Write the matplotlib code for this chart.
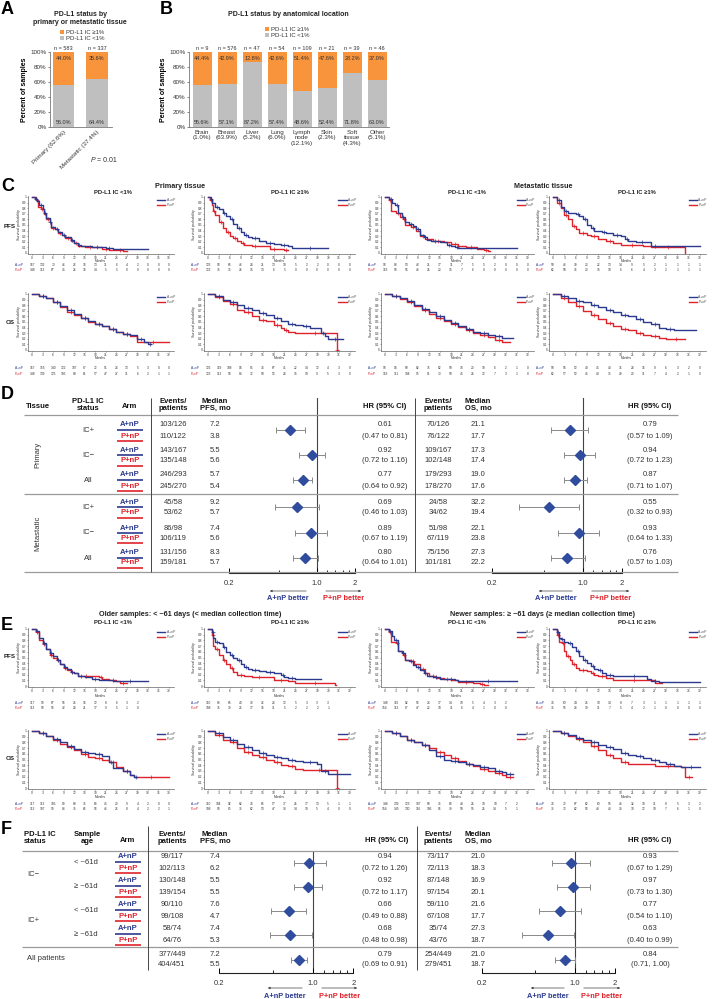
import matplotlib
matplotlib.use('Agg')
import matplotlib.pyplot as plt
import numpy as np
from matplotlib import transforms

plt.rcParams['font.family'] = ['Liberation Sans', 'DejaVu Sans']

BLUE = '#2B3A8F'
RED = '#E0232B'
ORANGE = '#F7943C'
GRAY = '#BFBFBF'
TXT = '#333333'
DIAM = '#2F4C9E'
LINE = '#9A9A9A'

# ---------------- Panel A data ----------------
a_cats = ['Primary (62.6%)', 'Metastatic (37.4%)']
a_pos = [44.0, 35.6]
a_neg = [56.0, 64.4]
a_n = [583, 337]

# ---------------- Panel B data ----------------
b_cats = ['Brain\n(1.0%)', 'Breast\n(63.9%)', 'Liver\n(5.2%)', 'Lung\n(6.0%)',
          'Lymph\nnode\n(12.1%)', 'Skin\n(2.3%)', 'Soft\ntissue\n(4.3%)', 'Other\n(5.1%)']
b_pos = [44.4, 42.9, 12.8, 42.6, 51.4, 47.6, 28.2, 37.0]
b_neg = [55.6, 57.1, 87.2, 57.4, 48.6, 52.4, 71.8, 63.0]
b_n = [9, 576, 47, 54, 109, 21, 39, 46]

# ---------------- KM curves (month, survival) ----------------
c_pfs_pri_lo_a = [(0,1),(0.8,0.97),(1.5,0.92),(2,0.85),(3,0.78),(3.5,0.72),(4,0.62),(5,0.55),(5.5,0.47),(6.5,0.43),(7.5,0.37),(8.5,0.33),(9.5,0.28),(11,0.24),(12,0.18),(13,0.14),(14,0.12),(17,0.11),(20,0.1),(21,0.09),(23,0.08),(33,0.08)]
c_pfs_pri_lo_p = [(0,1),(1,0.95),(1.7,0.82),(2.5,0.78),(3.3,0.7),(4,0.6),(5,0.55),(5.5,0.45),(6.5,0.42),(7.5,0.36),(8.5,0.32),(9.5,0.27),(11,0.22),(12,0.18),(13,0.13),(15,0.11),(18,0.1),(20,0.08),(22,0.06),(24,0.05),(26,0.03),(27,0.03)]
c_pfs_pri_hi_a = [(0,1),(0.7,0.97),(1.2,0.9),(2,0.83),(3,0.78),(4,0.72),(5,0.66),(6,0.6),(7,0.52),(8,0.45),(9,0.38),(10,0.32),(11,0.28),(12,0.26),(14,0.22),(16,0.18),(18,0.16),(20,0.15),(22,0.13),(23,0.09),(33,0.09)]
c_pfs_pri_hi_p = [(0,1),(0.5,0.95),(1,0.85),(1.5,0.75),(2,0.67),(3,0.56),(4,0.45),(5,0.38),(6,0.3),(7,0.26),(8,0.21),(9,0.18),(10,0.15),(12,0.13),(14,0.12),(17,0.08),(19,0.07),(21,0.05),(22,0.05)]
c_pfs_met_lo_a = [(0,1),(1,0.97),(2,0.9),(2.8,0.85),(3.5,0.72),(4.5,0.65),(5.5,0.55),(6.5,0.52),(7.5,0.48),(8.5,0.42),(9.5,0.33),(10.5,0.28),(11.5,0.24),(12.5,0.21),(15,0.2),(17,0.15),(18,0.12),(19,0.1),(20,0.09),(36,0.09)]
c_pfs_met_lo_p = [(0,1),(1,0.95),(1.7,0.75),(3,0.72),(4,0.65),(5,0.6),(5.5,0.5),(7,0.47),(8.5,0.4),(9.5,0.3),(11,0.25),(13,0.21),(16,0.2),(18,0.16),(20,0.12),(22,0.1),(25,0.08),(27,0.05),(28,0.03),(28.5,0.03)]
c_pfs_met_hi_a = [(0,1),(1,0.95),(2,0.82),(3,0.75),(4,0.72),(6,0.7),(7,0.66),(8,0.6),(9,0.5),(10,0.45),(11,0.4),(13,0.38),(14,0.35),(16,0.33),(18,0.3),(19,0.25),(20,0.22),(22,0.2),(25,0.2),(26,0.13),(28,0.12),(39,0.12)]
c_pfs_met_hi_p = [(0,1),(1,0.9),(2,0.8),(3,0.68),(4,0.6),(5,0.48),(6,0.42),(7,0.35),(9,0.32),(10,0.3),(12,0.25),(14,0.22),(16,0.17),(18,0.15),(24,0.13),(26,0.1),(35,0.0),(35.1,0.0)]
c_os_pri_lo_a = [(0,1),(2,0.97),(4,0.92),(6,0.86),(8,0.78),(10,0.72),(12,0.65),(14,0.58),(16,0.52),(18,0.47),(20,0.42),(22,0.37),(24,0.32),(26,0.29),(28,0.26),(30,0.2),(32,0.15),(33,0.11),(34,0.11)]
c_os_pri_lo_p = [(0,1),(2,0.97),(4,0.93),(6,0.85),(8,0.76),(10,0.68),(12,0.63),(14,0.57),(16,0.5),(18,0.46),(20,0.42),(22,0.37),(24,0.32),(26,0.28),(28,0.25),(30,0.15),(39,0.15)]
c_os_pri_hi_a = [(0,1),(2,0.97),(4,0.9),(6,0.85),(8,0.8),(10,0.75),(12,0.72),(14,0.66),(16,0.62),(18,0.57),(20,0.52),(22,0.47),(24,0.44),(26,0.42),(28,0.4),(31,0.3),(32,0.25),(33,0.2),(37,0.2)]
c_os_pri_hi_p = [(0,1),(2,0.95),(4,0.87),(6,0.82),(8,0.72),(10,0.67),(12,0.6),(14,0.54),(16,0.52),(18,0.45),(20,0.4),(21,0.36),(22,0.33),(24,0.3),(35,0.3),(35.5,0.0),(35.6,0.0)]
c_os_met_lo_a = [(0,1),(2,0.97),(4,0.92),(6,0.87),(8,0.8),(10,0.73),(12,0.67),(14,0.6),(16,0.53),(18,0.48),(20,0.43),(22,0.38),(24,0.33),(26,0.3),(28,0.27),(30,0.25),(32,0.22),(35,0.22)]
c_os_met_lo_p = [(0,1),(2,0.96),(4,0.91),(6,0.85),(8,0.78),(10,0.72),(12,0.65),(14,0.58),(16,0.52),(18,0.46),(20,0.41),(22,0.36),(24,0.31),(26,0.27),(28,0.23),(30,0.18),(32,0.15),(34,0.15)]
c_os_met_hi_a = [(0,1),(2,0.96),(4,0.92),(6,0.88),(8,0.85),(10,0.8),(12,0.76),(14,0.72),(16,0.68),(18,0.63),(20,0.6),(22,0.56),(24,0.5),(26,0.46),(28,0.4),(30,0.37),(32,0.35),(38,0.35)]
c_os_met_hi_p = [(0,1),(2,0.93),(4,0.85),(6,0.78),(8,0.7),(10,0.62),(12,0.55),(14,0.48),(16,0.42),(18,0.37),(20,0.35),(22,0.3),(24,0.27),(26,0.25),(28,0.22),(30,0.2),(35,0.2)]

e_pfs_old_lo_a = [(0,1),(1,0.97),(2,0.85),(3,0.75),(4,0.65),(5,0.58),(6,0.53),(7,0.45),(8,0.38),(9,0.33),(10,0.3),(11,0.25),(12,0.22),(13,0.17),(15,0.15),(17,0.12),(19,0.1),(23,0.09),(33,0.09)]
e_pfs_old_lo_p = [(0,1),(1,0.95),(2,0.8),(3,0.73),(4,0.65),(5,0.55),(6,0.5),(7,0.45),(8,0.38),(9,0.32),(10,0.28),(11,0.25),(12,0.22),(13,0.18),(18,0.18),(19,0.15),(20,0.12),(22,0.1),(24,0.08),(25,0.06),(27,0.06)]
e_pfs_old_hi_a = [(0,1),(1,0.95),(1.5,0.85),(2,0.78),(3,0.75),(4,0.68),(5,0.6),(6,0.55),(7,0.5),(8,0.45),(9,0.38),(10,0.33),(11,0.3),(12,0.28),(14,0.26),(16,0.25),(18,0.23),(20,0.2),(21,0.16),(22,0.14),(24,0.12),(31,0.12)]
e_pfs_old_hi_p = [(0,1),(1,0.9),(1.5,0.7),(2,0.65),(3,0.55),(4,0.45),(5,0.38),(6,0.32),(7,0.25),(8,0.2),(10,0.18),(12,0.16),(16,0.15),(18,0.1),(22,0.08),(24,0.06),(35,0.02),(35.1,0.02)]
e_os_old_lo_a = [(0,1),(2,0.97),(4,0.92),(6,0.86),(8,0.8),(10,0.74),(12,0.68),(14,0.64),(16,0.62),(18,0.6),(20,0.56),(22,0.45),(23,0.35),(26,0.3),(28,0.22),(29,0.2),(30,0.2)]
e_os_old_lo_p = [(0,1),(2,0.96),(4,0.92),(6,0.85),(8,0.78),(10,0.72),(12,0.66),(14,0.6),(16,0.55),(18,0.52),(20,0.5),(22,0.45),(24,0.36),(26,0.3),(28,0.22),(29,0.2),(39,0.2)]
e_os_old_hi_a = [(0,1),(2,0.96),(4,0.9),(6,0.85),(8,0.78),(10,0.72),(12,0.67),(14,0.62),(16,0.58),(18,0.55),(20,0.52),(22,0.5),(24,0.47),(26,0.45),(30,0.42),(31,0.3),(33,0.25),(39,0.25)]
e_os_old_hi_p = [(0,1),(2,0.93),(4,0.85),(6,0.8),(8,0.7),(10,0.64),(12,0.58),(14,0.55),(16,0.5),(18,0.45),(20,0.4),(22,0.38),(24,0.33),(26,0.32),(35,0.32),(35.5,0.0),(35.6,0.0)]
e_pfs_new_lo_a = [(0,1),(1,0.97),(1.8,0.88),(2.5,0.8),(3.5,0.62),(4.5,0.58),(5.5,0.45),(6.5,0.44),(7.5,0.37),(8.5,0.33),(9.5,0.28),(10.5,0.22),(11.5,0.17),(13,0.15),(15,0.13),(17,0.12),(19,0.1),(20,0.08),(36,0.08)]
e_pfs_new_lo_p = [(0,1),(1,0.95),(1.7,0.78),(3,0.75),(3.5,0.62),(5,0.55),(5.5,0.46),(7,0.44),(8,0.38),(9.5,0.3),(11,0.22),(12,0.17),(14,0.14),(16,0.13),(18,0.11),(20,0.07),(24,0.06),(26,0.04),(27,0.02),(28,0.02)]
e_pfs_new_hi_a = [(0,1),(1,0.95),(1.5,0.85),(2,0.82),(3,0.77),(4,0.75),(5,0.68),(6,0.62),(7,0.52),(8,0.45),(9,0.4),(10,0.35),(11,0.3),(12,0.28),(13,0.23),(14,0.2),(16,0.18),(18,0.17),(25,0.12),(26,0.08),(28,0.07),(39,0.07)]
e_pfs_new_hi_p = [(0,1),(1,0.9),(1.5,0.78),(2.5,0.75),(3,0.62),(3.5,0.52),(4.5,0.45),(5,0.38),(6,0.32),(7,0.28),(9,0.27),(10,0.23),(11,0.2),(12,0.18),(14,0.14),(16,0.1),(27,0.05),(29,0.05)]
e_os_new_lo_a = [(0,1),(2,0.97),(4,0.92),(6,0.85),(8,0.8),(10,0.75),(12,0.67),(14,0.57),(16,0.5),(18,0.47),(20,0.45),(22,0.42),(24,0.4),(26,0.37),(28,0.35),(30,0.3),(32,0.28),(33,0.24),(35,0.24)]
e_os_new_lo_p = [(0,1),(2,0.96),(4,0.91),(6,0.85),(8,0.8),(10,0.75),(12,0.7),(14,0.64),(16,0.58),(18,0.53),(20,0.47),(22,0.42),(24,0.38),(26,0.33),(28,0.3),(30,0.27),(32,0.22),(33,0.2),(35,0.2)]
e_os_new_hi_a = [(0,1),(2,0.97),(4,0.93),(6,0.88),(8,0.85),(10,0.8),(12,0.76),(14,0.72),(16,0.68),(18,0.62),(20,0.58),(22,0.56),(24,0.52),(26,0.5),(28,0.46),(30,0.42),(32,0.38),(34,0.36),(39,0.36)]
e_os_new_hi_p = [(0,1),(2,0.96),(4,0.92),(6,0.86),(8,0.8),(10,0.74),(12,0.66),(14,0.58),(16,0.52),(18,0.46),(20,0.42),(27,0.38),(34,0.36),(35,0.2),(37,0.2)]

# ---------------- Numbers at risk (months 0, 3, 6, ...) ----------------
r_c_pfs_pri_lo_a = [167,132,70,46,26,16,13,11,6,4,2,0,0,0]
r_c_pfs_pri_lo_p = [148,113,67,45,25,16,14,5,5,0,0,0,0,0]
r_c_pfs_pri_hi_a = [126,98,65,46,28,21,13,10,5,2,2,0,0,0]
r_c_pfs_pri_hi_p = [122,75,35,25,15,13,6,5,0,0,0,0,0,0]
r_c_pfs_met_lo_a = [98,83,53,42,21,17,11,7,5,5,2,0,0,0]
r_c_pfs_met_lo_p = [119,98,56,46,25,23,15,7,6,0,0,0,0,0]
r_c_pfs_met_hi_a = [58,46,30,23,22,13,14,9,5,2,1,1,1,1]
r_c_pfs_met_hi_p = [62,50,36,20,15,10,6,6,4,3,2,1,1,1]
r_c_os_pri_lo_a = [167,155,140,122,107,87,72,51,24,13,5,3,0,0]
r_c_os_pri_lo_p = [148,139,125,105,80,61,57,47,27,11,6,2,1,1]
r_c_os_pri_hi_a = [126,119,108,94,85,74,67,41,22,14,12,4,3,0]
r_c_os_pri_hi_p = [122,112,98,84,72,58,52,28,15,10,9,5,3,0]
r_c_os_met_lo_a = [98,94,90,82,75,62,50,38,20,10,6,2,1,0]
r_c_os_met_lo_p = [119,111,104,95,81,70,58,45,25,12,7,3,1,0]
r_c_os_met_hi_a = [58,56,52,49,45,40,36,28,16,9,6,3,2,0]
r_c_os_met_hi_p = [62,57,52,45,40,35,29,20,11,7,4,2,1,0]
r_e_pfs_old_lo_a = [117,99,67,56,26,16,12,8,6,3,2]
r_e_pfs_old_lo_p = [113,93,56,42,28,21,17,9,5,1,0]
r_e_pfs_old_hi_a = [110,83,65,49,33,26,24,12,5,3,3,3]
r_e_pfs_old_hi_p = [108,75,39,26,17,16,11,5,2,2,2,1]
r_e_os_old_lo_a = [117,112,105,89,80,76,64,45,20,9,4,2,0,0]
r_e_os_old_lo_p = [113,107,99,84,75,66,56,46,26,8,4,2,2,1]
r_e_os_old_hi_a = [110,104,92,82,74,65,57,37,25,17,13,5,1,1]
r_e_os_old_hi_p = [108,98,85,76,62,53,47,33,14,10,5,4,0,0]
r_e_pfs_new_lo_a = [148,116,82,56,24,17,14,10,5,4,3,2]
r_e_pfs_new_lo_p = [154,113,87,47,22,18,11,6,4,1,0,0]
r_e_pfs_new_hi_a = [74,60,44,26,18,14,8,7,3,1,1,1,1,1]
r_e_pfs_new_hi_p = [76,55,24,19,11,7,5,4,2,1,0,0,0,0]
r_e_os_new_lo_a = [148,139,123,107,90,76,64,48,25,18,10,7,2]
r_e_os_new_lo_p = [154,145,130,116,106,96,79,58,55,25,14,5,1]
r_e_os_new_hi_a = [74,72,67,62,60,55,46,32,18,11,8,5,3,2]
r_e_os_new_hi_p = [76,73,62,56,48,40,34,18,12,10,7,6,1,0]

# ---------------- Panel D data ----------------
d_tissue = ['Primary', 'Metastatic']
d_status = ['IC+', 'IC\u2212', 'All', 'IC+', 'IC\u2212', 'All']
d_pfs_ev_a = ['103/126', '143/167', '246/293', '45/58', '86/98', '131/156']
d_pfs_ev_p = ['110/122', '135/148', '245/270', '53/62', '106/119', '159/181']
d_pfs_med_a = [7.2, 5.5, 5.7, 9.2, 7.4, 8.3]
d_pfs_med_p = [3.8, 5.6, 5.4, 5.7, 5.6, 5.7]
d_pfs_hr = [0.61, 0.92, 0.77, 0.69, 0.89, 0.80]
d_pfs_lo = [0.47, 0.72, 0.64, 0.46, 0.67, 0.64]
d_pfs_hi = [0.81, 1.16, 0.92, 1.03, 1.19, 1.01]
d_os_ev_a = ['70/126', '109/167', '179/293', '24/58', '51/98', '75/156']
d_os_ev_p = ['76/122', '102/148', '178/270', '34/62', '67/119', '101/181']
d_os_med_a = [21.1, 17.3, 19.0, 32.2, 22.1, 27.3]
d_os_med_p = [17.7, 17.4, 17.6, 19.4, 23.8, 22.2]
d_os_hr = [0.79, 0.94, 0.87, 0.55, 0.93, 0.76]
d_os_lo = [0.57, 0.72, 0.71, 0.32, 0.64, 0.57]
d_os_hi = [1.09, 1.23, 1.07, 0.93, 1.33, 1.03]

# ---------------- Panel F data ----------------
f_status = ['IC\u2212', 'IC+']
f_age = ['< ~61d', '\u2265 ~61d', '< ~61d', '\u2265 ~61d']
f_pfs_ev_a = ['99/117', '130/148', '90/110', '58/74', '377/449']
f_pfs_ev_p = ['102/113', '139/154', '99/108', '64/76', '404/451']
f_pfs_med_a = [7.4, 5.5, 7.6, 7.4, 7.2]
f_pfs_med_p = [6.2, 5.5, 4.7, 5.3, 5.5]
f_pfs_hr = [0.94, 0.92, 0.66, 0.68, 0.79]
f_pfs_lo = [0.72, 0.72, 0.49, 0.48, 0.69]
f_pfs_hi = [1.26, 1.17, 0.88, 0.98, 0.91]
f_os_ev_a = ['73/117', '87/148', '59/110', '35/74', '254/449']
f_os_ev_p = ['72/113', '97/154', '67/108', '43/76', '279/451']
f_os_med_a = [21.0, 16.9, 21.6, 27.3, 21.0]
f_os_med_p = [18.3, 20.1, 17.7, 18.7, 18.7]
f_os_hr = [0.93, 0.97, 0.77, 0.63, 0.84]
f_os_lo = [0.67, 0.73, 0.54, 0.40, 0.71]
f_os_hi = [1.29, 1.30, 1.10, 0.99, 1.00]

# =====================================================================
W, H = 714, 999
fig = plt.figure(figsize=(W / 100, H / 100), dpi=100)
ov = fig.add_axes([0, 0, 1, 1], zorder=10)
ov.set_xlim(0, W)
ov.set_ylim(H, 0)
ov.axis('off')
ov.patch.set_visible(False)


def px_axes(x0, y0, x1, y1):
    return fig.add_axes([x0 / W, 1 - y1 / H, (x1 - x0) / W, (y1 - y0) / H])


def T(x, y, s, **kw):
    kw.setdefault('ha', 'center')
    kw.setdefault('va', 'center')
    kw.setdefault('color', TXT)
    kw.setdefault('fontsize', 5.5)
    return ov.text(x, y, s, **kw)


def letter(x, y, s):
    ov.text(x, y, s, fontsize=13, fontweight='bold', ha='left', va='top', color='black')


def hline(x0, x1, y, color=LINE, lw=0.9):
    ov.plot([x0, x1], [y, y], color=color, lw=lw, solid_capstyle='butt')


def vline(x, y0, y1, color='#444444', lw=0.7):
    ov.plot([x, x], [y0, y1], color=color, lw=lw, solid_capstyle='butt')


# ---------------- Panel A ----------------
letter(1, 1, 'A')
T(80, 14, 'PD-L1 status by', fontsize=5, fontweight='bold', color='#222222')
T(80, 23, 'primary or metastatic tissue', fontsize=5, fontweight='bold', color='#222222')


def stacked(ax, cats, pos, neg, nn, width, fs_cat, rot):
    x = np.arange(len(cats))
    bneg = ax.bar(x, neg, width=width, color=GRAY, zorder=2)
    bpos = ax.bar(x, pos, bottom=neg, width=width, color=ORANGE, zorder=2)
    ax.set_ylim(0, 100)
    ax.set_yticks(range(0, 101, 20))
    ax.set_yticklabels([f'{v}%' for v in range(0, 101, 20)])
    ax.tick_params(axis='y', labelsize=4.5, length=1.5, width=0.5, pad=1, colors='#555555', labelcolor=TXT)
    ax.set_xticks(x)
    if rot:
        ax.set_xticklabels(cats, rotation=45, ha='right', rotation_mode='anchor', fontsize=fs_cat, color=TXT)
    else:
        ax.set_xticklabels(cats, fontsize=fs_cat, color=TXT, linespacing=1.1, va='top')
    ax.tick_params(axis='x', length=0, pad=2)
    for s in ('top', 'right'):
        ax.spines[s].set_visible(False)
    for s in ('left', 'bottom'):
        ax.spines[s].set_color('#777777')
        ax.spines[s].set_linewidth(0.6)
    for i in range(len(cats)):
        ax.text(i, 101.5, f'n = {nn[i]}', ha='center', va='bottom', fontsize=4, color=TXT)
        ax.text(i, 95, f'{pos[i]:.1f}%', ha='center', va='top', fontsize=4, color=TXT, zorder=3)
        ax.text(i, 3, f'{neg[i]:.1f}%', ha='center', va='bottom', fontsize=4, color=TXT, zorder=3)
    ax.set_ylabel('Percent of samples', fontsize=5, fontweight='bold', labelpad=2)
    return bpos, bneg


axA = px_axes(50, 52, 112, 127)
hp, hn = stacked(axA, a_cats, a_pos, a_neg, a_n, 0.64, 4.5, True)
axA.set_xlim(-0.41, 1.45)
fig.legend([hp, hn], ['PD-L1 IC \u22651%', 'PD-L1 IC <1%'], loc='upper left',
           bbox_to_anchor=(57 / W, 1 - 27 / H), frameon=False, fontsize=4.3,
           handlelength=0.7, handleheight=0.7, handletextpad=0.3, labelspacing=0.15,
           borderpad=0, labelcolor=TXT)
ov.text(91, 161, 'P', fontsize=5, style='italic', ha='left', va='center', color=TXT)
ov.text(95, 161, ' = 0.01', fontsize=5, ha='left', va='center', color=TXT)

# ---------------- Panel B ----------------
letter(160, 1, 'B')
T(288, 15, 'PD-L1 status by anatomical location', fontsize=5, fontweight='bold', color='#222222')
axB = px_axes(189, 52, 389, 127)
hp, hn = stacked(axB, b_cats, b_pos, b_neg, b_n, 0.76, 4.5, False)
axB.set_xlim(-0.52, 7.48)
fig.legend([hp, hn], ['PD-L1 IC \u22651%', 'PD-L1 IC <1%'], loc='upper left',
           bbox_to_anchor=(262 / W, 1 - 24 / H), frameon=False, fontsize=4.3,
           handlelength=0.7, handleheight=0.7, handletextpad=0.3, labelspacing=0.15,
           borderpad=0, labelcolor=TXT)


# ---------------- KM helper ----------------
def km_plot(x0, x39, ytop, ybot, ca, cp, ra, rp, title, title_x, title_y, months_y, risk_y):
    k = (x39 - x0) / 39.0
    h = ybot - ytop
    pad = 0.015
    ax = px_axes(x0 - 1.0 * k, ytop - pad * h, x0 + 40.5 * k, ybot + pad * h)
    ax.set_xlim(-1, 40.5)
    ax.set_ylim(-pad, 1 + pad)
    handles = {}
    for crv, col, lab in ((cp, RED, 'P+nP'), (ca, BLUE, 'A+nP')):
        t = [p[0] for p in crv]
        s = [p[1] for p in crv]
        ln, = ax.step(t, s, where='post', color=col, lw=1.0, label=lab, clip_on=False)
        handles[lab] = ln
        mx = [(t[i] + t[i + 1]) / 2 for i in range(1, len(t) - 1, 2)]
        my = [s[i] for i in range(1, len(t) - 1, 2)]
        ax.plot(mx, my, '+', color=col, ms=2.2, mew=0.5, clip_on=False)
    ax.legend([handles['A+nP'], handles['P+nP']], ['A+nP', 'P+nP'], loc='upper right',
              bbox_to_anchor=(1.02, 1.0), frameon=False, fontsize=2.4, handlelength=2.5,
              labelspacing=0.25, borderpad=0.1, handletextpad=0.4, labelcolor='#555555')
    ax.set_xticks(range(0, 40, 3))
    ax.set_yticks(np.round(np.arange(0, 1.01, 0.1), 1))
    ax.set_yticklabels(['0'] + [f'{v:.1f}' for v in np.arange(0.1, 0.95, 0.1)] + ['1'])
    ax.tick_params(labelsize=2.3, length=0.9, width=0.4, pad=0.4, colors='#555555', labelcolor=TXT)
    for s in ('top', 'right'):
        ax.spines[s].set_visible(False)
    for s in ('left', 'bottom'):
        ax.spines[s].set_linewidth(0.5)
        ax.spines[s].set_color('#666666')
    ax.set_ylabel('Survival probability', fontsize=2.6, labelpad=1.2, color=TXT)
    tr = transforms.blended_transform_factory(ax.transData, ov.transData)
    ax.text(19.5, months_y, 'Months', transform=tr, fontsize=2.4, ha='center', va='center', color=TXT)
    for vals, yy, col, lab in ((ra, risk_y[0], BLUE, 'A+nP'), (rp, risk_y[1], RED, 'P+nP')):
        ov.text(x0 - 17, yy, lab, fontsize=2.3, color=col, ha='left', va='center')
        for i, v in enumerate(vals):
            ax.text(3 * i, yy, str(v), transform=tr, fontsize=2.3, ha='center', va='center', color=TXT)
    if title:
        T(title_x, title_y, title, fontsize=4.2, fontweight='bold', color='#222222')
    return ax


COLS = [(32, 169), (208, 350), (385, 528), (553, 700)]
T_LO = 'PD-L1 IC <1%'
T_HI = 'PD-L1 IC \u22651%'
TITLE_X = [113, 290, 467, 637]

# ---------------- Panel C ----------------
letter(1, 178, 'C')
T(180, 186, 'Primary tissue', fontsize=5.2, fontweight='bold', color='#222222')
T(543, 186, 'Metastatic tissue', fontsize=5.2, fontweight='bold', color='#222222')
T(10, 227, 'PFS', fontsize=4.5, fontweight='bold', color='#222222')
T(10, 323, 'OS', fontsize=4.5, fontweight='bold', color='#222222')

c_pfs = [(c_pfs_pri_lo_a, c_pfs_pri_lo_p, r_c_pfs_pri_lo_a, r_c_pfs_pri_lo_p, T_LO),
         (c_pfs_pri_hi_a, c_pfs_pri_hi_p, r_c_pfs_pri_hi_a, r_c_pfs_pri_hi_p, T_HI),
         (c_pfs_met_lo_a, c_pfs_met_lo_p, r_c_pfs_met_lo_a, r_c_pfs_met_lo_p, T_LO),
         (c_pfs_met_hi_a, c_pfs_met_hi_p, r_c_pfs_met_hi_a, r_c_pfs_met_hi_p, T_HI)]
c_os = [(c_os_pri_lo_a, c_os_pri_lo_p, r_c_os_pri_lo_a, r_c_os_pri_lo_p),
        (c_os_pri_hi_a, c_os_pri_hi_p, r_c_os_pri_hi_a, r_c_os_pri_hi_p),
        (c_os_met_lo_a, c_os_met_lo_p, r_c_os_met_lo_a, r_c_os_met_lo_p),
        (c_os_met_hi_a, c_os_met_hi_p, r_c_os_met_hi_a, r_c_os_met_hi_p)]
for j in range(4):
    ca, cp, ra, rp, tt = c_pfs[j]
    km_plot(COLS[j][0], COLS[j][1], 197, 253, ca, cp, ra, rp, tt, TITLE_X[j], 192, 260.5, (265, 270))
    ca, cp, ra, rp = c_os[j]
    km_plot(COLS[j][0], COLS[j][1], 294, 350, ca, cp, ra, rp, '', TITLE_X[j], 290, 358, (368, 374))


# ---------------- Forest helper ----------------
def forest(xp02, xp1, ytop, ybot, yrows, hr, lo, hi):
    k = (xp1 - xp02) / np.log(5.0)
    x2 = xp1 + k * np.log(2.0)
    ax = px_axes(xp02, ytop, x2, ybot)
    ax.set_xscale('log')
    ax.set_xlim(0.2, 2.0)
    ax.set_ylim(ybot, ytop)
    ax.patch.set_visible(False)
    ax.axvline(1.0, color='#444444', lw=0.8, zorder=1)
    err = [np.array(hr) - np.array(lo), np.array(hi) - np.array(hr)]
    ax.errorbar(hr, yrows, xerr=err, fmt='none', ecolor='#8A8A8A', elinewidth=0.7,
                capsize=2, capthick=0.7, zorder=2)
    ax.plot(hr, yrows, 'D', color=DIAM, ms=5.5, mec=DIAM, zorder=3, linestyle='none')
    for s in ('top', 'right', 'left'):
        ax.spines[s].set_visible(False)
    ax.spines['bottom'].set_linewidth(0.8)
    ax.spines['bottom'].set_color('#222222')
    ax.set_yticks([])
    ax.set_xticks([0.2, 1.0, 2.0])
    ax.set_xticklabels(['0.2', '1.0', '2'])
    ax.set_xticks([0.5, 1.2, 1.4, 1.6, 1.8], minor=True)
    ax.set_xticklabels([], minor=True)
    ax.tick_params(axis='x', which='major', direction='in', length=3.5, width=0.7,
                   labelsize=5.5, pad=5, labelcolor=TXT)
    ax.tick_params(axis='x', which='minor', direction='in', length=2.5, width=0.6)
    return ax


def arrows(xp1, y_arrow, y_text, left_end, right_end):
    ov.annotate('', xy=(left_end, y_arrow), xytext=(xp1 - 8, y_arrow),
                arrowprops=dict(arrowstyle='-|>', color='#444444', lw=0.5, mutation_scale=3))
    ov.annotate('', xy=(right_end, y_arrow), xytext=(xp1 + 6, y_arrow),
                arrowprops=dict(arrowstyle='-|>', color='#444444', lw=0.5, mutation_scale=3))
    T((left_end + xp1 - 8) / 2, y_text, 'A+nP better', fontsize=5.3, fontweight='bold', color=BLUE)
    T(xp1 + 6 + (right_end - xp1 - 6) / 2, y_text, 'P+nP better', fontsize=5.3, fontweight='bold', color=RED)


def arm_labels(x, ya, yp):
    T(x, ya, 'A+nP', fontsize=5.5, fontweight='bold', color=BLUE)
    hline(x - 13, x + 13, ya + 4.5, color=BLUE, lw=1.2)
    T(x, yp, 'P+nP', fontsize=5.5, fontweight='bold', color=RED)
    hline(x - 13, x + 13, yp + 4.5, color=RED, lw=1.2)


# ---------------- Panel D ----------------
letter(1, 386, 'D')
HB = dict(fontsize=5.5, fontweight='bold', color='#111111')
T(38, 406, 'Tissue', **HB)
T(88, 405, 'PD-L1 IC\nstatus', linespacing=1.0, **HB)
T(130, 406, 'Arm', **HB)
T(173, 405, 'Events/\npatients', linespacing=1.0, **HB)
T(215, 405, 'Median\nPFS, mo', linespacing=1.0, **HB)
T(385, 406, 'HR (95% CI)', **HB)
T(438, 405, 'Events/\npatients', linespacing=1.0, **HB)
T(478, 405, 'Median\nOS, mo', linespacing=1.0, **HB)
T(650, 406, 'HR (95% CI)', **HB)
hline(24, 678, 415)
hline(24, 678, 494)
hline(24, 678, 572)
vline(151, 398, 572)
vline(415, 398, 572)

d_ya = [425, 450, 475, 502, 528, 553]
d_yp = [436, 461, 486, 513, 538, 563]
T(38, 455, d_tissue[0], rotation=90, fontsize=5.5)
T(38, 533, d_tissue[1], rotation=90, fontsize=5.5)
for i in range(6):
    ya, yp = d_ya[i], d_yp[i]
    ym = (ya + yp) / 2
    T(88, ym, d_status[i])
    arm_labels(130, ya, yp)
    T(173, ya, d_pfs_ev_a[i]); T(173, yp, d_pfs_ev_p[i])
    T(215, ya, f'{d_pfs_med_a[i]:.1f}'); T(215, yp, f'{d_pfs_med_p[i]:.1f}')
    T(385, ya, f'{d_pfs_hr[i]:.2f}'); T(385, yp, f'({d_pfs_lo[i]:.2f} to {d_pfs_hi[i]:.2f})')
    T(438, ya, d_os_ev_a[i]); T(438, yp, d_os_ev_p[i])
    T(478, ya, f'{d_os_med_a[i]:.1f}'); T(478, yp, f'{d_os_med_p[i]:.1f}')
    T(650, ya, f'{d_os_hr[i]:.2f}'); T(650, yp, f'({d_os_lo[i]:.2f} to {d_os_hi[i]:.2f})')
d_ym = [(a + b) / 2 for a, b in zip(d_ya, d_yp)]
forest(229, 317, 398, 573, d_ym, d_pfs_hr, d_pfs_lo, d_pfs_hi)
forest(492, 583, 398, 573, d_ym, d_os_hr, d_os_lo, d_os_hi)
arrows(317, 591, 599, 267, 364)
arrows(583, 591, 599, 536, 632)

# ---------------- Panel E ----------------
letter(1, 617, 'E')
T(190, 614, 'Older samples: < ~61 days (< median collection time)', fontsize=5.2, fontweight='bold', color='#222222')
T(543, 614, 'Newer samples: \u2265 ~61 days (\u2265 median collection time)', fontsize=5.2, fontweight='bold', color='#222222')
T(10, 657, 'PFS', fontsize=4.5, fontweight='bold', color='#222222')
T(10, 759, 'OS', fontsize=4.5, fontweight='bold', color='#222222')
e_pfs = [(e_pfs_old_lo_a, e_pfs_old_lo_p, r_e_pfs_old_lo_a, r_e_pfs_old_lo_p, T_LO),
         (e_pfs_old_hi_a, e_pfs_old_hi_p, r_e_pfs_old_hi_a, r_e_pfs_old_hi_p, T_HI),
         (e_pfs_new_lo_a, e_pfs_new_lo_p, r_e_pfs_new_lo_a, r_e_pfs_new_lo_p, T_LO),
         (e_pfs_new_hi_a, e_pfs_new_hi_p, r_e_pfs_new_hi_a, r_e_pfs_new_hi_p, T_HI)]
e_os = [(e_os_old_lo_a, e_os_old_lo_p, r_e_os_old_lo_a, r_e_os_old_lo_p),
        (e_os_old_hi_a, e_os_old_hi_p, r_e_os_old_hi_a, r_e_os_old_hi_p),
        (e_os_new_lo_a, e_os_new_lo_p, r_e_os_new_lo_a, r_e_os_new_lo_p),
        (e_os_new_hi_a, e_os_new_hi_p, r_e_os_new_hi_a, r_e_os_new_hi_p)]
for j in range(4):
    ca, cp, ra, rp, tt = e_pfs[j]
    km_plot(COLS[j][0], COLS[j][1], 629, 686, ca, cp, ra, rp, tt, TITLE_X[j], 623, 696, (703, 708))
    ca, cp, ra, rp = e_os[j]
    km_plot(COLS[j][0], COLS[j][1], 731, 788, ca, cp, ra, rp, '', TITLE_X[j], 725, 797, (804, 809))

# ---------------- Panel F ----------------
letter(1, 821, 'F')
T(24, 838, 'PD-L1 IC\nstatus', ha='left', linespacing=1.0, **HB)
T(87, 838, 'Sample\nage', linespacing=1.0, **HB)
T(128, 840, 'Arm', **HB)
T(172, 838, 'Events/\npatients', linespacing=1.0, **HB)
T(215, 838, 'Median\nPFS, mo', linespacing=1.0, **HB)
T(387, 840, 'HR (95% CI)', **HB)
T(438, 838, 'Events/\npatients', linespacing=1.0, **HB)
T(478, 838, 'Median\nOS, mo', linespacing=1.0, **HB)
T(650, 840, 'HR (95% CI)', **HB)
hline(22, 678, 851)
hline(22, 678, 947)
vline(148, 826, 970)
vline(417, 826, 970)

f_ya = [857, 881, 905, 929, 954]
f_yp = [868, 892, 916, 940, 965]
T(27, 875, f_status[0], ha='left')
T(27, 920, f_status[1], ha='left')
T(27, 959, 'All patients', ha='left')
for i in range(5):
    ya, yp = f_ya[i], f_yp[i]
    ym = (ya + yp) / 2
    if i < 4:
        T(86, ym, f_age[i])
        arm_labels(128, ya, yp)
    T(172, ya, f_pfs_ev_a[i]); T(172, yp, f_pfs_ev_p[i])
    T(215, ya, f'{f_pfs_med_a[i]:.1f}'); T(215, yp, f'{f_pfs_med_p[i]:.1f}')
    T(385, ya, f'{f_pfs_hr[i]:.2f}')
    T(385, yp, f'({f_pfs_lo[i]:.2f} to {f_pfs_hi[i]:.2f})')
    if i < 4:
        T(650, yp, f'({f_os_lo[i]:.2f} to {f_os_hi[i]:.2f})')
    else:
        T(650, yp, f'({f_os_lo[i]:.2f}, {f_os_hi[i]:.2f})')
    T(438, ya, f_os_ev_a[i]); T(438, yp, f_os_ev_p[i])
    T(478, ya, f'{f_os_med_a[i]:.1f}'); T(478, yp, f'{f_os_med_p[i]:.1f}')
    T(650, ya, f'{f_os_hr[i]:.2f}')
f_ym = [(a + b) / 2 for a, b in zip(f_ya, f_yp)]
forest(219, 313, 851, 973, f_ym, f_pfs_hr, f_pfs_lo, f_pfs_hi)
forest(482, 575, 851, 973, f_ym, f_os_hr, f_os_lo, f_os_hi)
arrows(313, 988, 996, 265, 360)
arrows(575, 988, 996, 528, 623)

fig.savefig('out.png', dpi=100)
